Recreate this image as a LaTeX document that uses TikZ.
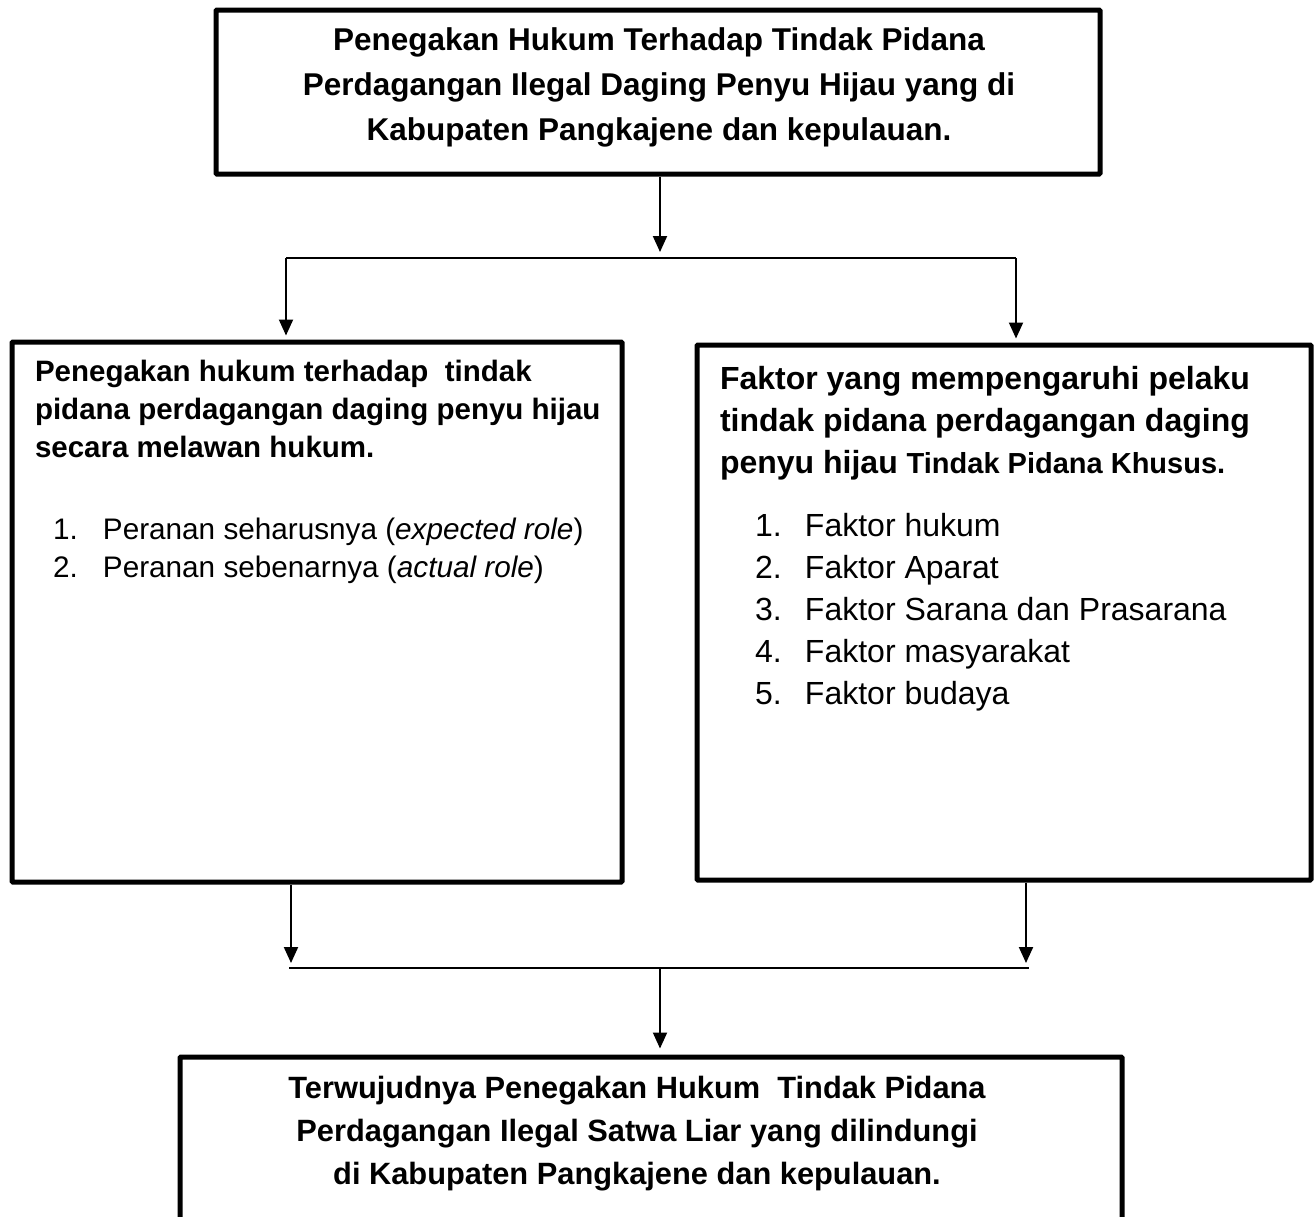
\documentclass[tikz,border=0pt]{standalone}
\usepackage{fontspec}
\setmainfont{Liberation Sans}
\usetikzlibrary{arrows.meta}
\newcommand\myfs[1]{\fontsize{#1}{#1}\selectfont}
\tikzset{
  box/.style={draw, line width=5pt, rounded corners=1pt, inner sep=0pt, fill=none},
  txt/.style={inner sep=0pt, outer sep=0pt, text=black},
  tcenter/.style={txt, anchor=base},
  tleft/.style={txt, anchor=base west},
  conn/.style={line width=2pt},
  arr/.style={line width=2pt, -{Triangle[length=16pt,width=14pt]}},
}
\begin{document}
\begin{tikzpicture}[x=1pt,y=-1pt]
\useasboundingbox (0,0) rectangle (1316,1216);
\fill[white] (0,0) rectangle (1316,1216);

% boxes
\node[box, minimum width=884pt, minimum height=164pt] (top) at (658,92) {};
\node[box, minimum width=610pt, minimum height=540pt] (lbox) at (317,612) {};
\node[box, minimum width=614pt, minimum height=535pt] (rbox) at (1004,612.5) {};
\node[box, minimum width=942pt, minimum height=213pt] (bot) at (651,1163.5) {};

% top text
\node[tcenter, font=\bfseries\myfs{31.5}] (t1) at (659,50) {Penegakan Hukum Terhadap Tindak Pidana};
\node[tcenter, font=\bfseries\myfs{31.5}] (t2) at (659,95) {Perdagangan Ilegal Daging Penyu Hijau yang di};
\node[tcenter, font=\bfseries\myfs{31.5}] (t3) at (659,140) {Kabupaten Pangkajene dan kepulauan.};

% left text
\node[tleft, font=\bfseries\myfs{29.5}] (l1) at (35,381) {Penegakan hukum terhadap\ \ tindak};
\node[tleft, font=\bfseries\myfs{29.5}] (l2) at (35,419) {pidana perdagangan daging penyu hijau};
\node[tleft, font=\bfseries\myfs{29.5}] (l3) at (35,457) {secara melawan hukum.};
\node[tleft, font=\myfs{29.7}] (l4) at (53,539) {\makebox[50pt][l]{1.}Peranan seharusnya (\textit{expected role})};
\node[tleft, font=\myfs{29.7}] (l5) at (53,577) {\makebox[50pt][l]{2.}Peranan sebenarnya (\textit{actual role})};

% right text
\node[tleft, font=\bfseries\myfs{32}] (r1) at (720,389) {Faktor yang mempengaruhi pelaku};
\node[tleft, font=\bfseries\myfs{32}] (r2) at (720,431) {tindak pidana perdagangan daging};
\node[tleft, font=\bfseries\myfs{32}] (r3) at (720,473) {penyu hijau {\myfs{29}Tindak Pidana Khusus.}};
\node[tleft, font=\myfs{32}] (r4) at (755,536) {\makebox[50pt][l]{1.}Faktor hukum};
\node[tleft, font=\myfs{32}] (r5) at (755,578) {\makebox[50pt][l]{2.}Faktor Aparat};
\node[tleft, font=\myfs{32}] (r6) at (755,620) {\makebox[50pt][l]{3.}Faktor Sarana dan Prasarana};
\node[tleft, font=\myfs{32}] (r7) at (755,662) {\makebox[50pt][l]{4.}Faktor masyarakat};
\node[tleft, font=\myfs{32}] (r8) at (755,704) {\makebox[50pt][l]{5.}Faktor budaya};

% bottom text
\node[tcenter, font=\bfseries\myfs{30.8}] (b1) at (637,1098) {Terwujudnya Penegakan Hukum\ \ Tindak Pidana};
\node[tcenter, font=\bfseries\myfs{30.8}] (b2) at (637,1141) {Perdagangan Ilegal Satwa Liar yang dilindungi};
\node[tcenter, font=\bfseries\myfs{30.8}] (b3) at (637,1184) {di Kabupaten Pangkajene dan kepulauan.};

% junction coordinates
\coordinate (j1) at (660,258);
\coordinate (jl) at (286,258);
\coordinate (jr) at (1016,258);
\coordinate (k1) at (660,968);
\coordinate (kl) at (289,968);
\coordinate (kr) at (1029,968);
\coordinate (al) at (291,968);
\coordinate (ar) at (1026,968);

% connectors
\draw[arr] (top.south -| j1) -- ([yshift=6pt]j1);
\draw[conn] (jl) -- (jr);
\draw[arr] (jl) -- ([yshift=4pt]lbox.north -| jl);
\draw[arr] (jr) -- ([yshift=4pt]rbox.north -| jr);
\draw[arr] (lbox.south -| al) -- ([yshift=5pt]al);
\draw[arr] (rbox.south -| ar) -- ([yshift=5pt]ar);
\draw[conn] (kl) -- (kr);
\draw[arr] (k1) -- ([yshift=6pt]bot.north -| k1);
\end{tikzpicture}
\end{document}
